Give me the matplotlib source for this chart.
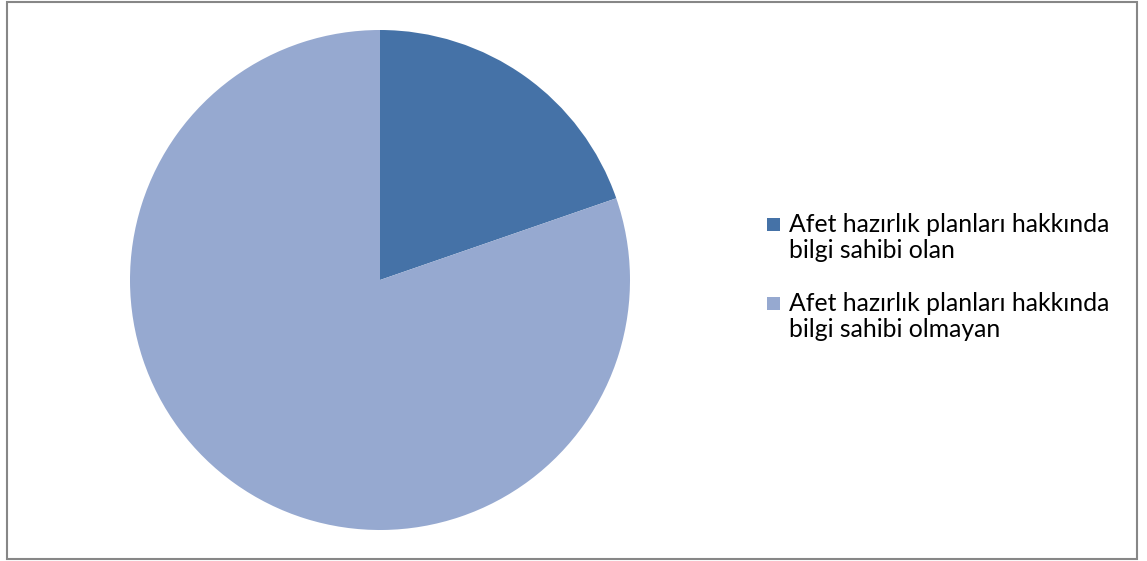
import matplotlib
matplotlib.use("Agg")
import matplotlib.pyplot as plt
from matplotlib.patches import Rectangle
from matplotlib.transforms import Affine2D

# --- data ---
labels = ["Afet hazırlık planları hakkında\nbilgi sahibi olan",
          "Afet hazırlık planları hakkında\nbilgi sahibi olmayan"]
values = [19.7, 80.3]
colors = ["#4572A7", "#96A9D0"]

W, H = 1147, 561
fig = plt.figure(figsize=(W / 100, H / 100), dpi=100)

# pixel transform with origin at top-left
px = Affine2D().scale(1.0 / W, -1.0 / H).translate(0, 1) + fig.transFigure

# outer frame
fig.patches.append(Rectangle((7, 1.5), 1129.5, 558, transform=px, fill=False,
                             edgecolor="#878787", linewidth=1.5))

# pie
cx, cy, r = 380, 280, 250
ax = fig.add_axes([(cx - r) / W, (H - cy - r) / H, 2 * r / W, 2 * r / H])
ax.pie(values, colors=colors, startangle=90, counterclock=False,
       wedgeprops=dict(linewidth=0))
ax.set_xlim(-1, 1)
ax.set_ylim(-1, 1)
ax.set_aspect("equal")
ax.axis("off")

# legend (drawn by hand: squares sit on the first line)
base_y = [232, 311]
for lab, col, y0 in zip(labels, colors, base_y):
    fig.patches.append(Rectangle((767, y0 - 14), 13, 13, transform=px,
                                 facecolor=col, edgecolor="none"))
    for i, line in enumerate(lab.split("\n")):
        fig.text(789, y0 + i * 26, line, transform=px, fontsize=17.8,
                 family="Lato", va="baseline", ha="left", color="#000000")

fig.savefig("out.png", dpi=100)
